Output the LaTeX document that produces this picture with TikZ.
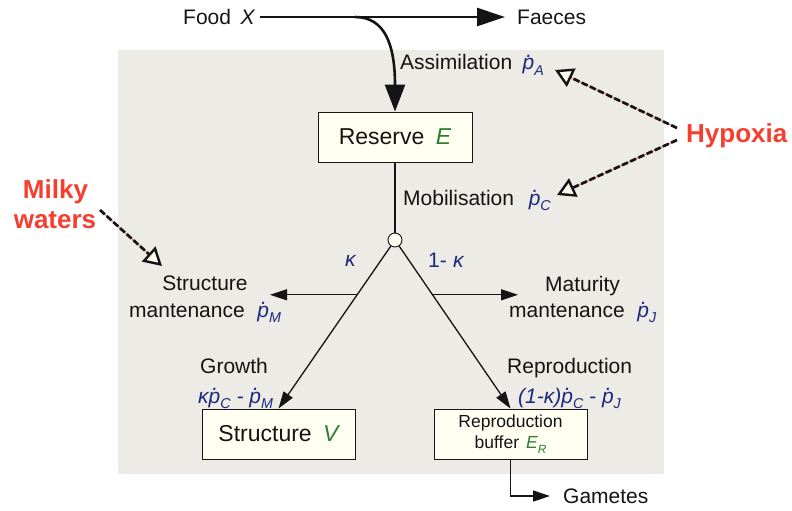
\documentclass[tikz,border=0pt]{standalone}
\usepackage{fontspec}
\setmainfont{Liberation Sans}
\usepackage{graphicx}
\usetikzlibrary{arrows.meta,calc}
\definecolor{bg}{RGB}{236,235,230}
\definecolor{boxfill}{RGB}{255,255,242}
\definecolor{dkblue}{RGB}{28,42,125}
\definecolor{dkgreen}{RGB}{46,125,50}
\definecolor{hred}{RGB}{245,62,48}
\definecolor{ink}{RGB}{20,20,20}
\newcommand\pd{\textit{p}\llap{\raisebox{0.6em}{\textit{.}}\hspace{0.1em}}}
\newcommand\sbs[1]{\raisebox{-0.25em}{\scalebox{0.68}{#1}}}
\newcommand\rate[1]{{\color{dkblue}\itshape\pd\sbs{#1}}}
\begin{document}
\begin{tikzpicture}[x=1pt,y=-1pt,
  font=\fontsize{21}{25}\selectfont,
  lbl/.style={inner sep=0pt, text=ink},
  redlbl/.style={inner sep=0pt, text=hred, font=\fontsize{26}{30}\selectfont\bfseries},
  box/.style={draw=ink, line width=0.9pt, fill=boxfill, minimum width=153pt, minimum height=50pt, inner sep=0pt, text=ink},
  flow/.style={draw=ink, line width=1.3pt, -{Triangle[length=17pt,width=11pt]}},
  bigflow/.style={draw=ink, line width=2.6pt, -{Triangle[length=28pt,width=18pt]}},
  effect/.style={draw=ink, line width=2.7pt, dash pattern=on 6.5pt off 2.5pt,
    -{Triangle[open,fill=boxfill,length=18pt,width=20pt,line width=2.4pt]},
    preaction={draw=hred!70, line width=1pt, dash pattern=on 1000pt off 0pt, -, shorten >=15pt}}]
\useasboundingbox (0,0) rectangle (792,511);
\fill[bg] (118,50) rectangle (664,474);

% top food flow
\node[lbl, anchor=west] (food) at (183,17) {Food\hspace{0.45em}\textit{X}};
\node[lbl, anchor=west] (faeces) at (517,17) {Faeces};
\draw[bigflow] ([xshift=5pt]food.east) -- ([xshift=-12pt]faeces.west);
\coordinate (split) at (355,17);

% boxes
\node[box, minimum width=154pt, font=\fontsize{23}{27}\selectfont] (reserve) at (395,137) {Reserve\hspace{0.5em}{\color{dkgreen}\itshape E}};
\node[box, font=\fontsize{23}{27}\selectfont] (struct) at (278.5,434) {Structure\hspace{0.5em}{\color{dkgreen}\itshape V}};
\node[box, align=center, font=\fontsize{17.5}{21}\selectfont] (buf) at (510.5,434) {Reproduction\\buffer\hspace{0.4em}{\color{dkgreen}\itshape E\sbs{R}}};

\draw[draw=ink, line width=2.6pt, -{Triangle[length=27pt,width=20pt]}] (split) .. controls (385,17) and (395,45) .. (reserve.north);

% junction
\node[circle, draw=ink, fill=boxfill, minimum size=14pt, inner sep=0pt, line width=0.9pt] (jn) at (395,240) {};
\draw[draw=ink, line width=1.3pt] (reserve) -- (jn);
\draw[flow] (jn) -- (struct.north);
\draw[flow] (jn) -- (buf.north);
\coordinate (lb) at ($(jn.center)!0.325!(struct.north)$);
\coordinate (rb) at ($(jn.center)!0.325!(buf.north)$);
\coordinate (smt) at (270,295);
\coordinate (mmt) at (518,295);
\draw[flow] (lb) -- (lb -| smt);
\draw[flow] (rb) -- (rb -| mmt);

% labels
\node[lbl, anchor=base west] (assim) at (400,70) {Assimilation\hspace{0.5em}\rate{A}};
\node[lbl, anchor=base west] (mobil) at (403,205) {Mobilisation\hspace{0.7em}\rate{C}};
\node[lbl, anchor=base west, text=dkblue] (kap) at (345,266) {\textit{κ}};
\node[lbl, anchor=base west, text=dkblue] (kap1) at (428,267) {1-\hspace{0.3em}\textit{κ}};
\node[lbl, anchor=base] (sm1) at (205,290) {Structure};
\node[lbl, anchor=base west] (sm2) at (129,317) {mantenance\hspace{0.6em}\rate{M}};
\node[lbl, anchor=base west] (mm1) at (545,291) {Maturity};
\node[lbl, anchor=base west] (mm2) at (509,317) {mantenance\hspace{0.6em}\rate{J}};
\node[lbl, anchor=base west] (grow) at (200,373) {Growth};
\node[lbl, anchor=base west] (growf) at (198,403) {{\color{dkblue}\itshape κ\pd\sbs{C} - \pd\sbs{M}}};
\node[lbl, anchor=base west] (repr) at (507,373) {Reproduction};
\node[lbl, anchor=base west] (reprf) at (518,403) {{\color{dkblue}\itshape (1-κ)\pd\sbs{C} - \pd\sbs{J}}};
\node[lbl, anchor=west] (gam) at (563,496) {Gametes};
\draw[flow] (buf.south) |- ([xshift=-13pt]gam.west);

% environmental effects
\node[redlbl, anchor=base west] (hyp) at (686,142) {Hypoxia};
\node[redlbl, anchor=base] (milk1) at (55.5,198) {Milky};
\node[redlbl, anchor=base] (milk2) at (55,228) {waters};
\coordinate (h1) at (677,128);
\coordinate (h2) at (677,140);
\coordinate (m1) at (100,210);
\coordinate (ta) at (555,70);
\coordinate (tc) at (557,195);
\coordinate (tm) at (162,266);
\draw[effect] (h1) -- (ta);
\draw[effect] (h2) -- (tc);
\draw[effect, preaction={draw=none}] (m1) -- (tm);
\end{tikzpicture}
\end{document}
